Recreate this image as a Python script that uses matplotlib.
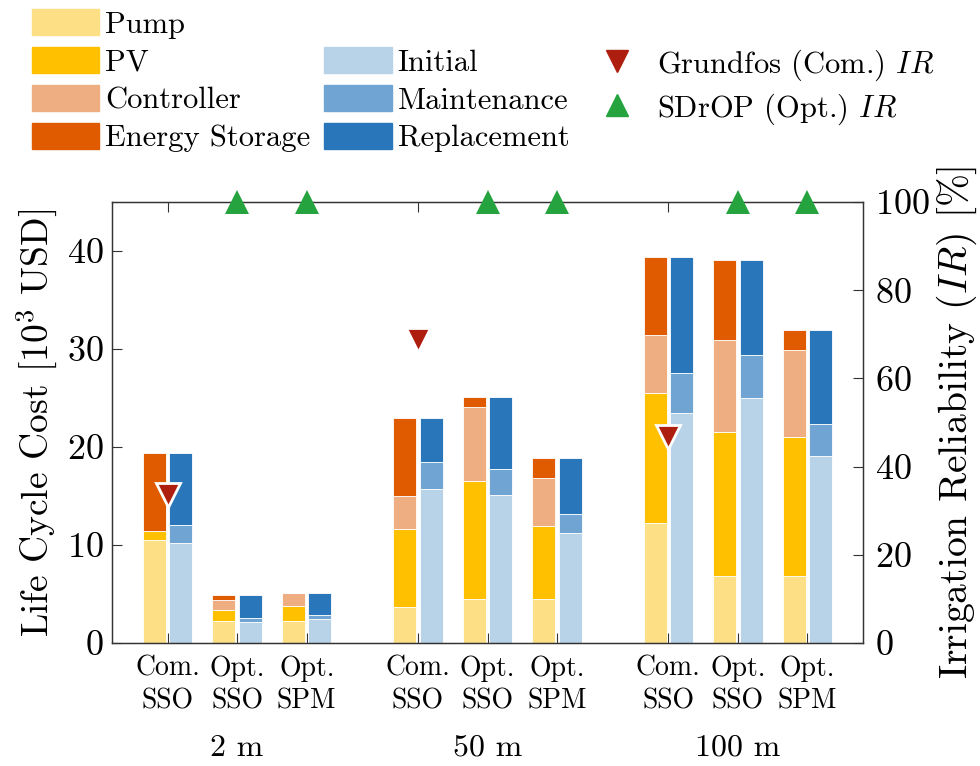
import matplotlib
matplotlib.use("Agg")
import matplotlib.pyplot as plt
import matplotlib.transforms as mtransforms
from matplotlib.lines import Line2D
from matplotlib.patches import Patch
import numpy as np

plt.rcParams["font.family"] = "cmr10"
plt.rcParams["mathtext.fontset"] = "cm"
plt.rcParams["axes.unicode_minus"] = False
plt.rcParams["axes.formatter.use_mathtext"] = True

heads = ["2 m", "50 m", "100 m"]
designs = ["Com.\nSSO", "Opt.\nSSO", "Opt.\nSPM"]

# component costs [10^3 USD], order: 2 m (Com, SSO, SPM), 50 m, 100 m
pump = [10.50, 2.24, 2.24, 3.70, 4.48, 4.48, 12.25, 6.85, 6.85]
pv = [0.90, 1.16, 1.56, 7.90, 12.04, 7.46, 13.30, 14.73, 14.12]
controller = [0.00, 0.98, 1.25, 3.40, 7.53, 4.89, 5.87, 9.32, 8.92]
storage = [7.97, 0.51, 0.00, 7.97, 1.02, 2.03, 7.97, 8.15, 2.04]

# cost by phase
initial = [10.25, 2.10, 2.44, 15.74, 15.13, 11.20, 23.48, 25.04, 19.10]
maintenance = [1.75, 0.40, 0.41, 2.71, 2.62, 1.93, 4.04, 4.31, 3.29]
replacement = [7.37, 2.39, 2.20, 4.52, 7.32, 5.73, 11.87, 9.70, 9.54]

# irrigation reliability [%]
ir_com = [33.6, 68.7, 46.7]
ir_opt = [100, 100, 100, 100, 100, 100]

comp_colors = ["#FDDF85", "#FFC000", "#EFAE82", "#E05A00"]
phase_colors = ["#B8D2E7", "#70A4D2", "#2A76BA"]
red = "#AE1E0E"
green = "#24A33F"

x = np.array([g * 3.6 + i for g in range(3) for i in range(3)])
w = 0.33
off = 0.19

fig = plt.figure(figsize=(9.8, 7.66), dpi=100)
ax = fig.add_axes([0.1143, 0.1606, 0.7663, 0.5757])
ax2 = ax.twinx()

bottom = np.zeros(9)
for vals, c in zip([pump, pv, controller, storage], comp_colors):
    ax.bar(x - off, vals, w, bottom=bottom, color=c, edgecolor="white",
           linewidth=0.6, zorder=2)
    bottom += np.array(vals)

bottom = np.zeros(9)
for vals, c in zip([initial, maintenance, replacement], phase_colors):
    ax.bar(x + off, vals, w, bottom=bottom, color=c, edgecolor="white",
           linewidth=0.6, zorder=2)
    bottom += np.array(vals)

ax.set_xlim(-0.8, 10.0)
ax.set_ylim(0, 45)
ax.set_yticks([0, 10, 20, 30, 40])
ax.set_xticks(x)
ax.set_xticklabels(designs * 3, fontsize=20, linespacing=1.3)
ax.tick_params(axis="x", direction="in", top=True, length=7, pad=9,
               color="#333333")
ax.tick_params(axis="y", direction="in", length=7, labelsize=26, pad=6,
               color="#333333")
ax.set_ylabel("Life Cycle Cost [$10^3$ USD]", fontsize=27, labelpad=6)

ax2.set_ylim(0, 100)
ax2.set_yticks([0, 20, 40, 60, 80, 100])
ax2.tick_params(axis="y", direction="in", length=7, labelsize=26, pad=9,
                color="#333333")
ax2.set_ylabel("Irrigation Reliability ($IR$) [%]", fontsize=28.5)
ax2.yaxis.set_label_coords(1.095, 0.5)
for a in (ax, ax2):
    for s in a.spines.values():
        s.set_color("#333333")
        s.set_linewidth(0.9)

com_x = x[0::3]
opt_x = np.sort(np.concatenate([x[1::3], x[2::3]]))
ax2.plot(com_x, ir_com, "v", ms=17, color=red, mec="white", mew=2,
         clip_on=False, zorder=5)
ax2.plot(opt_x, ir_opt, "^", ms=17, color=green, mec="white", mew=0,
         clip_on=False, zorder=5)

trans = mtransforms.blended_transform_factory(ax.transData, ax.transAxes)
for g, name in enumerate(heads):
    ax.text(x[g * 3 + 1], -0.238, name, transform=trans, ha="center",
            va="center", fontsize=23)

blank = Patch(alpha=0)
handles = [
    Patch(color=comp_colors[0]), Patch(color=comp_colors[1]),
    Patch(color=comp_colors[2]), Patch(color=comp_colors[3]),
    blank, Patch(color=phase_colors[0]), Patch(color=phase_colors[1]),
    Patch(color=phase_colors[2]),
    blank,
    Line2D([], [], ls="none", marker="v", ms=16, color=red),
    Line2D([], [], ls="none", marker="^", ms=16, color=green),
    blank,
]
labels = ["Pump", "PV", "Controller", "Energy Storage",
          "", "Initial", "Maintenance", "Replacement",
          "", "Grundfos (Com.) $IR$", "SDrOP (Opt.) $IR$", ""]
fig.legend(handles, labels, ncol=3, loc="upper left",
           bbox_to_anchor=(0.0327, 0.988), frameon=False, fontsize=22,
           handlelength=2.2, handleheight=0.92, handletextpad=0.2,
           columnspacing=0.45, labelspacing=0.28, borderpad=0,
           borderaxespad=0)

fig.savefig("out.png", dpi=100)
